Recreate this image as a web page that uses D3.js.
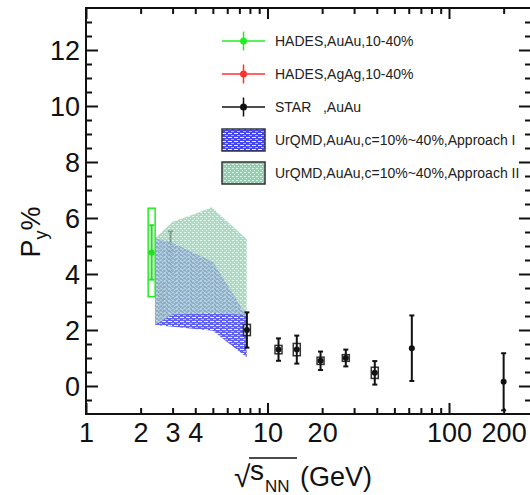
<!DOCTYPE html>
<html lang="en">
<head>
    <meta charset="UTF-8">
    <title>Py vs sqrt(sNN)</title>
    <script src="https://d3js.org/d3.v7.min.js"></script>
    <style>
        body { margin: 0; background: white; font-family: "Liberation Sans", Arial, sans-serif; }
        svg text { font-family: "Liberation Sans", Arial, sans-serif; }
    </style>
</head>
<body>
<script>
    // STAR, Au+Au
    const starE   = [2.92, 7.7, 11.5, 14.5, 19.6, 27, 39, 62.4, 200];
    const starPy  = [4.8, 2.0, 1.3, 1.3, 0.9, 1.0, 0.47, 1.35, 0.15];
    const starErr = [0.72, 0.63, 0.4, 0.5, 0.33, 0.3, 0.42, 1.17, 1.02];
    const starSys = [0, 0.2, 0.15, 0.22, 0.13, 0.12, 0.2, 0, 0];

    // HADES points
    const hadesAuE = [2.3],  hadesAuPy = [4.77], hadesAuErr = [0.97], hadesAuSys = [1.58];
    const hadesAgE = [2.62], hadesAgPy = [3.1],  hadesAgErr = [0.4],  hadesAgSys = [0.55];

    // UrQMD bands (outline, clockwise)
    const bandIE   = [2.4, 2.9, 5.0, 6.77, 7.68, 7.68, 5.0, 2.4];
    const bandIPy  = [5.27, 5.15, 4.44, 3.07, 2.47, 1.03, 1.97, 2.18];
    const bandIIE  = [2.4, 3.0, 4.07, 4.93, 7.68, 7.68, 5.0, 3.0, 2.4];
    const bandIIPy = [5.27, 5.87, 6.17, 6.38, 5.24, 2.54, 2.6, 2.55, 2.18];

    // axis ticks
    const xMajor = [1, 10, 100];
    const xMinor = [2, 3, 4, 5, 6, 7, 8, 9, 20, 30, 40, 50, 60, 70, 80, 90, 200];
    const xLabels = [1, 2, 3, 4, 10, 20, 100, 200];
    const yMajor = [0, 2, 4, 6, 8, 10, 12];
    const yMinor = d3.range(-0.5, 13.5, 0.5).filter(v => v % 2 !== 0);

    const W = 530, H = 495;
    const L = 86, R = 531, T = 8, B = 414;

    const svg = d3.select("body").append("svg")
        .attr("width", W).attr("height", H);

    const x = d3.scaleLog().domain([1, 283]).range([L, R]);
    const y = d3.scaleLinear().domain([-1, 13.5]).range([B, T]);

    // fill patterns
    const defs = svg.append("defs");
    const pb = defs.append("pattern").attr("id", "patBlue")
        .attr("patternUnits", "userSpaceOnUse").attr("width", 6).attr("height", 4);
    pb.append("rect").attr("width", 6).attr("height", 4).attr("fill", "#4646f0");
    pb.append("rect").attr("x", 0).attr("y", 1).attr("width", 4).attr("height", 1).attr("fill", "#ffffff").attr("opacity", 0.9);
    pb.append("rect").attr("x", 3).attr("y", 3).attr("width", 3).attr("height", 1).attr("fill", "#ffffff").attr("opacity", 0.6);

    const pg = defs.append("pattern").attr("id", "patGreen")
        .attr("patternUnits", "userSpaceOnUse").attr("width", 4).attr("height", 4);
    pg.append("rect").attr("width", 4).attr("height", 4).attr("fill", "#8fd0af");
    pg.append("rect").attr("x", 0).attr("y", 0).attr("width", 2).attr("height", 1).attr("fill", "#ffffff").attr("opacity", 0.7);
    pg.append("rect").attr("x", 2).attr("y", 2).attr("width", 1).attr("height", 1).attr("fill", "#ffffff").attr("opacity", 0.7);

    // helper: point with error bar and systematic box
    function drawPoint(g, e, v, err, sys, color, boxColor) {
        const cx = x(e);
        if (sys > 0) {
            g.append("rect")
                .attr("x", cx - 3.5).attr("y", y(v + sys))
                .attr("width", 7).attr("height", y(v - sys) - y(v + sys))
                .attr("fill", "white").attr("fill-opacity", 0.6)
                .attr("stroke", boxColor).attr("stroke-width", 1.5);
        }
        g.append("line")
            .attr("x1", cx).attr("x2", cx)
            .attr("y1", y(v + err)).attr("y2", y(v - err))
            .attr("stroke", color).attr("stroke-width", 2);
        [v + err, v - err].forEach(t => {
            g.append("line")
                .attr("x1", cx - 2.5).attr("x2", cx + 2.5)
                .attr("y1", y(t)).attr("y2", y(t))
                .attr("stroke", color).attr("stroke-width", 2);
        });
        g.append("circle").attr("cx", cx).attr("cy", y(v)).attr("r", 3).attr("fill", color);
    }

    const under = svg.append("g");
    // points hidden behind the bands
    drawPoint(under, starE[0], starPy[0], starErr[0], starSys[0], "#111", "#111");
    drawPoint(under, hadesAgE[0], hadesAgPy[0], hadesAgErr[0], hadesAgSys[0], "#ff3030", "#ff3030");

    const line = d3.line().x(d => x(d[0])).y(d => y(d[1]));
    svg.append("path")
        .attr("d", line(d3.zip(bandIE, bandIPy)) + "Z")
        .attr("fill", "url(#patBlue)").attr("opacity", 0.85);
    svg.append("path")
        .attr("d", line(d3.zip(bandIIE, bandIIPy)) + "Z")
        .attr("fill", "url(#patGreen)").attr("opacity", 0.75);

    const over = svg.append("g");
    drawPoint(over, hadesAuE[0], hadesAuPy[0], hadesAuErr[0], hadesAuSys[0], "#22dd22", "#22ee22");
    for (let i = 1; i < starE.length; i++) {
        drawPoint(over, starE[i], starPy[i], starErr[i], starSys[i], "#111", "#333");
    }

    // axes (ticks pointing inside)
    const fmt = d => d;
    svg.append("g").attr("transform", `translate(0,${B})`)
        .call(d3.axisBottom(x).tickValues(xMajor).tickSize(-11).tickFormat(""));
    svg.append("g").attr("transform", `translate(0,${B})`)
        .call(d3.axisBottom(x).tickValues(xMinor).tickSize(-6).tickFormat(""));
    svg.append("g").attr("transform", `translate(0,${B})`)
        .call(d3.axisBottom(x).tickValues(xLabels).tickSize(0).tickPadding(9).tickFormat(fmt))
        .attr("class", "xlab");
    svg.append("g").attr("transform", `translate(0,${T})`)
        .call(d3.axisTop(x).tickValues(xMajor).tickSize(-11).tickFormat(""));
    svg.append("g").attr("transform", `translate(0,${T})`)
        .call(d3.axisTop(x).tickValues(xMinor).tickSize(-6).tickFormat(""));

    svg.append("g").attr("transform", `translate(${L},0)`)
        .call(d3.axisLeft(y).tickValues(yMajor).tickSize(-12).tickPadding(6).tickFormat(fmt))
        .attr("class", "ylab");
    svg.append("g").attr("transform", `translate(${L},0)`)
        .call(d3.axisLeft(y).tickValues(yMinor).tickSize(-6).tickFormat(""));
    svg.append("g").attr("transform", `translate(${R},0)`)
        .call(d3.axisRight(y).tickValues(yMajor).tickSize(-12).tickFormat(""));
    svg.append("g").attr("transform", `translate(${R},0)`)
        .call(d3.axisRight(y).tickValues(yMinor).tickSize(-6).tickFormat(""));

    svg.selectAll(".domain").remove();
    svg.selectAll(".tick line").attr("stroke", "#111").attr("stroke-width", 2);
    svg.selectAll(".xlab text, .ylab text")
        .attr("font-size", 27).attr("fill", "#111");
    svg.selectAll(".ylab text").attr("dy", "0.36em");

    // frame
    svg.append("rect")
        .attr("x", L).attr("y", T).attr("width", R - L).attr("height", B - T)
        .attr("fill", "none").attr("stroke", "#111").attr("stroke-width", 2);

    // y title: P_y %
    const yt = svg.append("text")
        .attr("transform", "translate(40,232) rotate(-90)")
        .attr("text-anchor", "middle").attr("font-size", 27).attr("fill", "#111");
    yt.append("tspan").text("P");
    yt.append("tspan").attr("font-size", 18).attr("dy", 7).text("y");
    yt.append("tspan").attr("dy", -7).text("%");

    // x title: sqrt(s_NN) (GeV)
    const xt = svg.append("g").attr("fill", "#111");
    xt.append("text").attr("x", 234).attr("y", 487).attr("font-size", 30).attr("fill", "#111").text("√");
    xt.append("text").attr("x", 250).attr("y", 480).attr("font-size", 28).attr("fill", "#111").text("s");
    xt.append("text").attr("x", 265).attr("y", 492).attr("font-size", 17).attr("fill", "#111").text("NN");
    xt.append("line").attr("x1", 249).attr("x2", 297).attr("y1", 458).attr("y2", 458)
        .attr("stroke", "#111").attr("stroke-width", 1.5);
    xt.append("text").attr("x", 300).attr("y", 486).attr("font-size", 27).attr("fill", "#111").text("(GeV)");

    // legend
    const legItems = [
        { label: "HADES,AuAu,10-40%", color: "#22ee22", kind: "pt" },
        { label: "HADES,AgAg,10-40%", color: "#ff3030", kind: "pt" },
        { label: "STAR   ,AuAu", color: "#111", kind: "pt" },
        { label: "UrQMD,AuAu,c=10%~40%,Approach I", fill: "url(#patBlue)", kind: "box" },
        { label: "UrQMD,AuAu,c=10%~40%,Approach II", fill: "url(#patGreen)", kind: "box" }
    ];
    const leg = svg.append("g");
    legItems.forEach((d, i) => {
        const cy = 41 + i * 33;
        if (d.kind === "pt") {
            leg.append("line").attr("x1", 222).attr("x2", 265).attr("y1", cy).attr("y2", cy)
                .attr("stroke", d.color).attr("stroke-width", 1.5);
            leg.append("line").attr("x1", 243.5).attr("x2", 243.5).attr("y1", cy - 9.5).attr("y2", cy + 9.5)
                .attr("stroke", d.color).attr("stroke-width", 1.5);
            leg.append("circle").attr("cx", 243.5).attr("cy", cy).attr("r", 3.5).attr("fill", d.color);
        } else {
            leg.append("rect").attr("x", 222).attr("y", cy - 11).attr("width", 43).attr("height", 22)
                .attr("fill", d.fill).attr("stroke", "#333").attr("stroke-width", 1.5);
        }
        leg.append("text").attr("x", 275).attr("y", cy).attr("dy", "0.36em")
            .attr("font-size", 14).attr("fill", "#222").style("white-space", "pre").text(d.label);
    });
</script>
</body>
</html>
